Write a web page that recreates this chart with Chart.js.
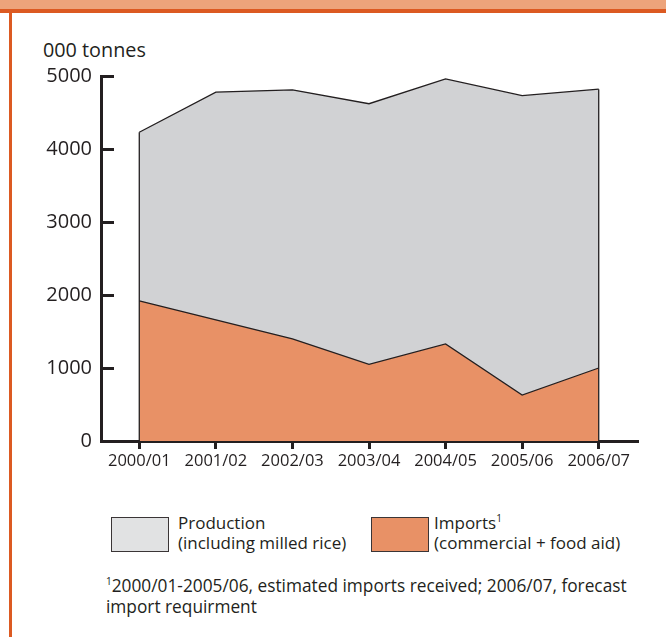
<!DOCTYPE html>
<html>
<head>
<meta charset="utf-8">
<script src="https://cdn.jsdelivr.net/npm/chart.js@4/dist/chart.umd.min.js"></script>
<style>
  html, body { margin: 0; padding: 0; background: #fff; }
  body { width: 666px; height: 637px; position: relative; overflow: hidden;
         font-family: "Open Sans", sans-serif; color: #231f20; }
  #band { position: absolute; left: 0; top: 0; width: 666px; height: 9px; background: #eda47b; }
  #rule { position: absolute; left: 0; top: 9px; width: 666px; height: 4px; background: #dc5a22; }
  #side { position: absolute; left: 9px; top: 9px; width: 3px; height: 628px; background: #dc5a22; }
  #unit { position: absolute; left: 43px; top: 40px; font-size: 19.8px; line-height: 19px; }
  #chart { position: absolute; left: 0; top: 0; }
  .key { position: absolute; top: 517px; width: 56px; height: 33px; border: 1.5px solid #3a3536; }
  .keytext { position: absolute; top: 513px; font-size: 17px; line-height: 20px; white-space: nowrap; }
  sup { font-size: 10px; line-height: 0; vertical-align: 7px; }
  #note { position: absolute; left: 106px; top: 575px; font-size: 17.3px; line-height: 21px; white-space: nowrap; }
</style>
</head>
<body>
<div id="band"></div>
<div id="rule"></div>
<div id="side"></div>
<div id="unit">000 tonnes</div>
<canvas id="chart" width="666" height="480"></canvas>

<div class="key" style="left:111px; background:#e1e2e3;"></div>
<div class="keytext" style="left:178px;">Production<br>(including milled rice)</div>
<div class="key" style="left:371px; background:#e89166;"></div>
<div class="keytext" style="left:434px;">Imports<sup>1</sup><br>(commercial + food aid)</div>

<div id="note"><sup>1</sup>2000/01-2005/06, estimated imports received; 2006/07, forecast<br>import requirment</div>

<script>
// marketing years
const years = ['2000/01', '2001/02', '2002/03', '2003/04', '2004/05', '2005/06', '2006/07'];
// 000 tonnes
const imports = [1920, 1660, 1400, 1050, 1330, 630, 1000];
const production = [2310, 3120, 3410, 3570, 3630, 4100, 3820];
const yTicks = [0, 1000, 2000, 3000, 4000, 5000];

const ink = '#231f20';

// tick marks on the inside of the y axis, and closing edges of the area
const decorations = {
    id: 'decorations',
    afterDatasetsDraw(chart) {
        const ctx = chart.ctx;
        const y = chart.scales.y;
        const left = chart.chartArea.left;
        ctx.save();
        ctx.strokeStyle = ink;
        ctx.lineWidth = 3;
        yTicks.forEach(v => {
            const py = Math.round(y.getPixelForValue(v)) + 0.5;
            ctx.beginPath();
            ctx.moveTo(left, py);
            ctx.lineTo(left + 13, py);
            ctx.stroke();
        });
        // vertical edges of the stacked area
        const top = chart.getDatasetMeta(1).data;
        const base = y.getPixelForValue(0);
        ctx.lineWidth = 1.3;
        [top[0], top[top.length - 1]].forEach(p => {
            ctx.beginPath();
            ctx.moveTo(p.x, p.y);
            ctx.lineTo(p.x, base);
            ctx.stroke();
        });
        ctx.restore();
    }
};

new Chart(document.getElementById('chart'), {
    type: 'line',
    data: {
        labels: years,
        datasets: [{
            label: 'Imports',
            data: imports,
            backgroundColor: '#e89166',
            borderColor: ink,
            borderWidth: 1.3,
            fill: 'origin',
            pointRadius: 0,
            tension: 0
        }, {
            label: 'Production',
            data: production,
            backgroundColor: '#d1d2d4',
            borderColor: ink,
            borderWidth: 1.3,
            fill: '-1',
            pointRadius: 0,
            tension: 0
        }]
    },
    options: {
        responsive: false,
        animation: false,
        devicePixelRatio: 1,
        layout: { padding: { top: 76, right: 29, left: 0, bottom: 0 } },
        plugins: {
            legend: { display: false },
            tooltip: { enabled: false }
        },
        scales: {
            x: {
                offset: true,
                grid: {
                    drawOnChartArea: false,
                    drawTicks: true,
                    tickLength: 8,
                    lineWidth: 3,
                    color: ink,
                    offset: false
                },
                border: { display: true, width: 3, color: ink },
                ticks: {
                    color: ink,
                    padding: 2,
                    maxRotation: 0,
                    autoSkip: false,
                    font: { family: 'Open Sans', size: 16.5 }
                },
                afterFit: s => { s.height = 39; }
            },
            y: {
                stacked: true,
                min: 0,
                max: 5000,
                grid: { drawOnChartArea: false, drawTicks: false },
                border: { display: true, width: 3, color: ink },
                ticks: {
                    stepSize: 1000,
                    color: ink,
                    padding: 9,
                    font: { family: 'Open Sans', size: 20 },
                    callback: v => String(v)
                },
                afterFit: s => { s.width = 101; }
            }
        }
    },
    plugins: [decorations]
});
</script>
</body>
</html>
